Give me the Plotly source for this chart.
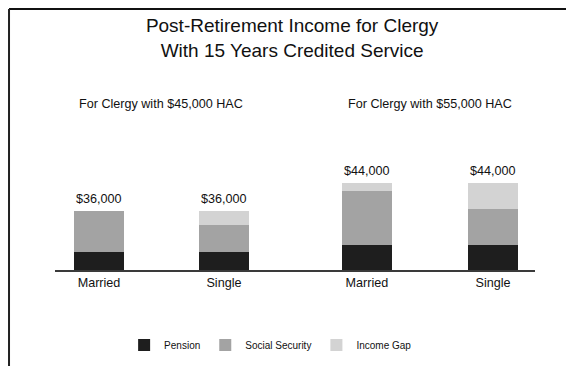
import plotly.graph_objects as go

groups = ["For Clergy with $45,000 HAC", "For Clergy with $55,000 HAC"]
status = ["Married", "Single"]
totals = [["$36,000", "$36,000"], ["$44,000", "$44,000"]]

# segment sizes (one shared y scale)
pension = [[9000, 9000], [12650, 12650]]
social_security = [[20800, 13700], [27300, 18200]]
income_gap = [[0, 7100], [4050, 13150]]

series = [
    ("Pension", pension, "#1e1e1e"),
    ("Social Security", social_security, "#a3a3a3"),
    ("Income Gap", income_gap, "#d3d3d3"),
]

FONT = "Liberation Sans, Arial, Helvetica, sans-serif"
axes = ["x", "x2"]

fig = go.Figure()
for g, ax in enumerate(axes):
    for name, values, color in series:
        fig.add_trace(go.Bar(
            x=status, y=values[g], name=name, xaxis=ax, yaxis="y",
            marker=dict(color=color, line=dict(width=0)),
            width=0.4, legendgroup=name, showlegend=(g == 0),
            hoverinfo="skip",
        ))

annotations = []
for g, ax in enumerate(axes):
    annotations.append(dict(
        text=groups[g], xref=ax, yref="paper", x=0.5, y=0.976,
        showarrow=False, font=dict(size=12.6), yanchor="middle",
    ))
    for i, s in enumerate(status):
        top = pension[g][i] + social_security[g][i] + income_gap[g][i]
        annotations.append(dict(
            text=totals[g][i], xref=ax, yref="y", x=s, y=top,
            yanchor="bottom", yshift=3, showarrow=False, font=dict(size=12.6),
        ))

axis_style = dict(
    type="category", showline=True, linecolor="#3a3a3a", linewidth=2,
    showgrid=False, zeroline=False, ticks="", tickfont=dict(size=12.6),
    ticklabelstandoff=0, fixedrange=True,
)

fig.update_layout(
    width=566, height=358,
    margin=dict(l=47, r=39, t=92, b=96, autoexpand=False),
    paper_bgcolor="white", plot_bgcolor="white",
    font=dict(family=FONT, color="#111111"),
    barmode="stack",
    title=dict(
        text="Post-Retirement Income for Clergy<br>With 15 Years Credited Service",
        x=0.502, xanchor="center", xref="container",
        y=0.932, yanchor="middle", yref="container",
        font=dict(size=19),
    ),
    xaxis=dict(domain=[0, 0.502], range=[-0.352, 1.576], anchor="y", **axis_style),
    xaxis2=dict(domain=[0.502, 1], range=[-0.563, 1.333], anchor="y", **axis_style),
    yaxis=dict(visible=False, range=[0, 86000], fixedrange=True),
    legend=dict(
        orientation="h", x=0.144, xanchor="left", y=-0.441, yanchor="middle",
        font=dict(size=10), traceorder="normal", bgcolor="rgba(0,0,0,0)",
    ),
    annotations=annotations,
    shapes=[
        dict(type="line", xref="paper", yref="paper", x0=-0.0958, x1=1.1,
             y0=1.535, y1=1.535, line=dict(color="#111111", width=2)),
        dict(type="line", xref="paper", yref="paper", x0=-0.0958, x1=-0.0958,
             y0=1.535, y1=-0.6, line=dict(color="#222222", width=2)),
    ],
)

fig.write_html("out.html", config=dict(displayModeBar=False))
